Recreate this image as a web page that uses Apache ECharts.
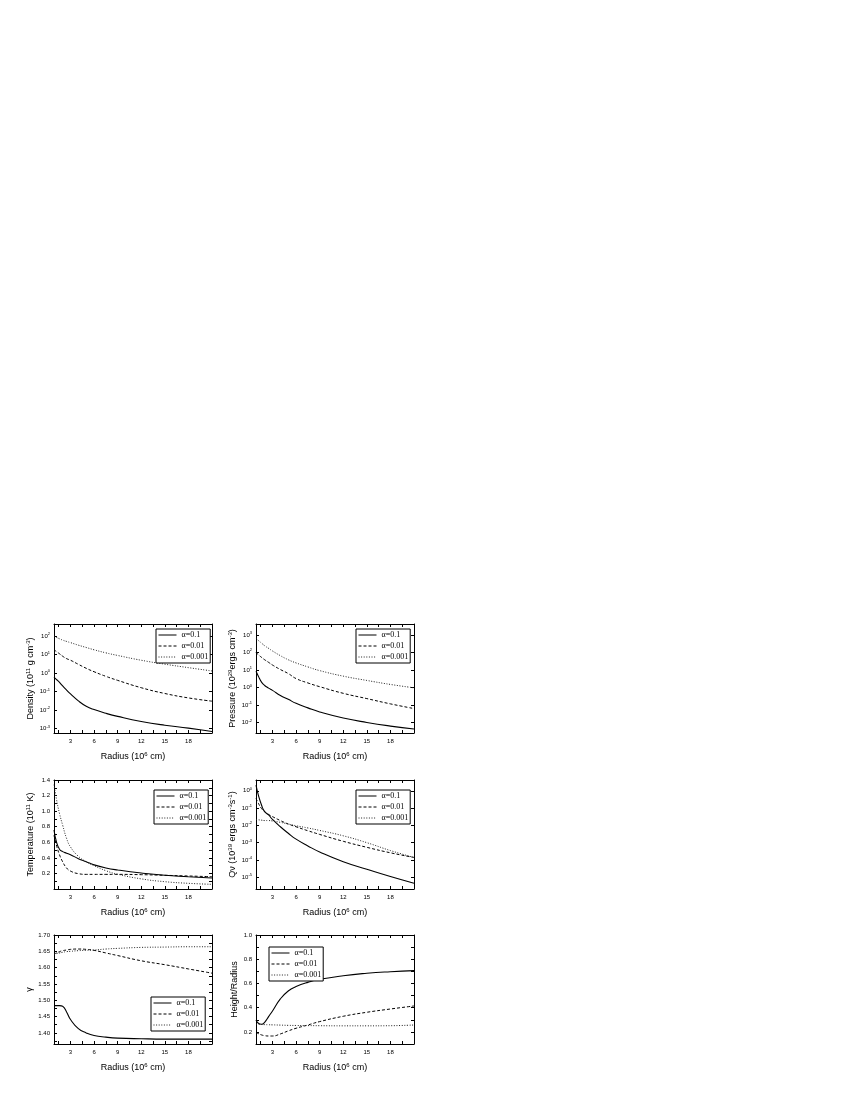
<!DOCTYPE html>
<html>
<head>
<meta charset="utf-8">
<script src="https://cdn.jsdelivr.net/npm/echarts@6/dist/echarts.min.js"></script>
<style>
  html, body { margin: 0; padding: 0; background: #fff; }
  #chart { width: 850px; height: 1100px; }
</style>
</head>
<body>
<div id="chart"></div>
<script>
// radius samples, 10^6 cm
const radius = [0.9, 1.2, 1.6, 2, 2.5, 3, 4, 5, 6, 7.5, 9, 12, 15, 18, 21];
const seriesNames = ['α=0.1', 'α=0.01', 'α=0.001'];

// x ticks
const xLabelValues = [3, 6, 9, 12, 15, 18];
const xTickValues = [1.5, 3, 4.5, 6, 7.5, 9, 10.5, 12, 13.5, 15, 16.5, 18, 19.5];

// density (10^11 g cm^-3)
const density01 = [0.60, 0.45, 0.31, 0.20, 0.12, 0.074, 0.031, 0.016, 0.0105, 0.0066, 0.0045, 0.0024, 0.0015, 0.00105, 0.00069];
const density001 = [18.6, 14.5, 11, 8.1, 6.0, 4.9, 2.95, 1.8, 1.17, 0.66, 0.40, 0.16, 0.078, 0.045, 0.030];
const density0001 = [100, 85, 71, 60, 51, 44, 32, 24, 18, 12.3, 8.9, 4.9, 3.0, 1.95, 1.29];
const densityTicks = [0.001, 0.01, 0.1, 1, 10, 100];

// pressure (10^29 ergs cm^-3)
const pressure01 = [8.3, 4.4, 2.0, 1.29, 0.91, 0.68, 0.35, 0.21, 0.123, 0.068, 0.040, 0.018, 0.010, 0.0062, 0.0042];
const pressure001 = [100, 74, 52, 38, 27, 19, 10.5, 6.2, 3.2, 1.8, 1.1, 0.46, 0.23, 0.115, 0.062];
const pressure0001 = [646, 479, 339, 240, 170, 120, 65, 38, 25, 14.8, 9.1, 4.4, 2.5, 1.48, 0.95];
const pressureTicks = [0.01, 0.1, 1, 10, 100, 1000];

// temperature (10^11 K)
const temperature01 = [0.76, 0.61, 0.51, 0.48, 0.46, 0.44, 0.39, 0.35, 0.31, 0.27, 0.244, 0.205, 0.176, 0.158, 0.141];
const temperature001 = [0.69, 0.565, 0.44, 0.35, 0.27, 0.23, 0.197, 0.188, 0.188, 0.188, 0.188, 0.184, 0.176, 0.167, 0.158];
const temperature0001 = [1.34, 1.16, 0.97, 0.82, 0.65, 0.54, 0.42, 0.35, 0.30, 0.235, 0.19, 0.13, 0.094, 0.073, 0.060];
const temperatureTicks = [0.2, 0.4, 0.6, 0.8, 1.0, 1.2, 1.4];
const temperatureMinor = [0.1, 0.2, 0.3, 0.4, 0.5, 0.6, 0.7, 0.8, 0.9, 1.0, 1.1, 1.2, 1.3];

// Q nu (10^39 ergs cm^-3 s^-1)
const qnu01 = [2.1, 0.56, 0.15, 0.062, 0.040, 0.022, 0.0083, 0.0035, 0.0016, 0.00065, 0.00029, 0.000079, 0.000029, 0.000011, 0.0000045];
const qnu001 = [0.36, 0.19, 0.095, 0.062, 0.043, 0.032, 0.019, 0.012, 0.0083, 0.0049, 0.0030, 0.0012, 0.00054, 0.00026, 0.00014];
const qnu0001 = [0.022, 0.021, 0.020, 0.019, 0.019, 0.018, 0.015, 0.012, 0.0095, 0.0071, 0.0051, 0.0025, 0.0010, 0.00035, 0.00014];
const qnuTicks = [0.00001, 0.0001, 0.001, 0.01, 0.1, 1];

// adiabatic index
const gamma01 = [1.4835, 1.4835, 1.4835, 1.4815, 1.464, 1.441, 1.413, 1.400, 1.392, 1.387, 1.384, 1.382, 1.381, 1.381, 1.381];
const gamma001 = [1.641, 1.645, 1.649, 1.652, 1.654, 1.656, 1.657, 1.656, 1.653, 1.645, 1.637, 1.621, 1.609, 1.596, 1.583];
const gamma0001 = [1.641, 1.643, 1.645, 1.647, 1.649, 1.650, 1.652, 1.653, 1.654, 1.657, 1.659, 1.662, 1.663, 1.664, 1.664];
const gammaTicks = [1.40, 1.45, 1.50, 1.55, 1.60, 1.65, 1.70];
const gammaMinor = [1.375, 1.40, 1.425, 1.45, 1.475, 1.50, 1.525, 1.55, 1.575, 1.60, 1.625, 1.65, 1.675];

// height / radius
const height01 = [0.298, 0.271, 0.263, 0.279, 0.326, 0.373, 0.472, 0.538, 0.574, 0.609, 0.634, 0.664, 0.684, 0.697, 0.706];
const height001 = [0.194, 0.186, 0.175, 0.169, 0.166, 0.166, 0.183, 0.208, 0.230, 0.257, 0.285, 0.329, 0.362, 0.389, 0.414];
const height0001 = [0.263, 0.262, 0.261, 0.260, 0.259, 0.258, 0.256, 0.254, 0.253, 0.252, 0.251, 0.250, 0.250, 0.251, 0.257];
const heightTicks = [0.2, 0.4, 0.6, 0.8, 1.0];
const heightMinor = [0.2, 0.3, 0.4, 0.5, 0.6, 0.7, 0.8, 0.9];

const panels = [
  { yName: 'Density (10{s|11} g cm{s|-3})', log: true, min: 5.7e-4, max: 447,
    labels: densityTicks, ticks: densityTicks, values: [density01, density001, density0001] },
  { yName: 'Pressure (10{s|29}ergs cm{s|-3})', log: true, min: 2.5e-3, max: 4170,
    labels: pressureTicks, ticks: pressureTicks, values: [pressure01, pressure001, pressure0001] },
  { yName: 'Temperature (10{s|11} K)', log: false, min: 0, max: 1.4, digits: 1,
    labels: temperatureTicks, ticks: temperatureMinor, values: [temperature01, temperature001, temperature0001] },
  { yName: 'Q\u03bd (10{s|39} ergs cm{s|-3}s{s|-1})', log: true, min: 2.1e-6, max: 4.2,
    labels: qnuTicks, ticks: qnuTicks, values: [qnu01, qnu001, qnu0001] },
  { yName: '\u03b3', log: false, min: 1.366, max: 1.70, digits: 2,
    labels: gammaTicks, ticks: gammaMinor, values: [gamma01, gamma001, gamma0001] },
  { yName: 'Height/Radius', log: false, min: 0.1, max: 1.0, digits: 1,
    labels: heightTicks, ticks: heightMinor, values: [height01, height001, height0001] }
];

// where each panel sits on the page
const layout = [
  { left: 54, top: 624, legend: [156, 629] },
  { left: 256, top: 624, legend: [356, 629] },
  { left: 54, top: 780, legend: [154, 790] },
  { left: 256, top: 780, legend: [356, 790] },
  { left: 54, top: 935, legend: [151, 997] },
  { left: 256, top: 935, legend: [269, 947] }
];

const lineStyles = [
  { type: 'solid', width: 1.1, color: '#000' },
  { type: [3, 2], width: 1, color: '#000' },
  { type: [1, 1.6], width: 1, color: '#222' }
];

const supRich = {
  s: { fontSize: 6, padding: [0, 0, 6, 0], fontFamily: 'Liberation Sans', color: '#000' }
};
const logRich = {
  b: { fontSize: 6, fontFamily: 'Liberation Sans', color: '#000' },
  e: { fontSize: 4, padding: [0, 0, 4, 0], fontFamily: 'Liberation Sans', color: '#000' }
};

const option = {
  animation: false,
  backgroundColor: '#fff',
  textStyle: { fontFamily: 'Liberation Sans', color: '#000' },
  grid: [],
  xAxis: [],
  yAxis: [],
  legend: [],
  series: []
};

const axisLine = { show: true, onZero: false, lineStyle: { color: '#000', width: 1 } };

panels.forEach((p, i) => {
  const pos = layout[i];
  option.grid.push({ left: pos.left, top: pos.top, width: 158, height: 109 });

  const xCommon = {
    type: 'value', gridIndex: i, min: 0.9, max: 21,
    axisLine: axisLine, splitLine: { show: false },
    axisTick: { inside: true, length: 3, customValues: xTickValues, lineStyle: { color: '#000' } }
  };
  option.xAxis.push(Object.assign({}, xCommon, {
    position: 'bottom',
    axisLabel: { customValues: xLabelValues, fontSize: 6, color: '#000', margin: 5 },
    name: 'Radius (10{s|6} cm)', nameLocation: 'middle', nameGap: 18,
    nameTextStyle: { fontSize: 9, color: '#000', rich: supRich }
  }));
  option.xAxis.push(Object.assign({}, xCommon, { position: 'top', axisLabel: { show: false } }));

  const yCommon = {
    type: p.log ? 'log' : 'value', gridIndex: i, min: p.min, max: p.max,
    axisLine: axisLine, splitLine: { show: false },
    axisTick: { inside: true, length: 3, customValues: p.ticks, lineStyle: { color: '#000' } }
  };
  const labelFormatter = p.log
    ? (v) => '{b|10}{e|' + Math.round(Math.log10(v)) + '}'
    : (v) => v.toFixed(p.digits);
  option.yAxis.push(Object.assign({}, yCommon, {
    position: 'left',
    axisLabel: { customValues: p.labels, formatter: labelFormatter, fontSize: 6, color: '#000', margin: 4, rich: logRich },
    name: p.yName, nameLocation: 'middle', nameGap: 17,
    nameTextStyle: { fontSize: 9, color: '#000', rich: supRich }
  }));
  option.yAxis.push(Object.assign({}, yCommon, { position: 'right', axisLabel: { show: false } }));

  option.legend.push({
    data: seriesNames,
    orient: 'vertical', left: pos.legend[0], top: pos.legend[1],
    itemWidth: 18, itemHeight: 6, itemGap: 3,
    padding: [2, 2, 2, 2],
    borderColor: '#000', borderWidth: 1, backgroundColor: '#fff',
    selectedMode: false,
    itemStyle: { opacity: 0 },
    lineStyle: { width: 1 },
    textStyle: { fontFamily: 'Liberation Serif', fontSize: 8, color: '#000' }
  });

  p.values.forEach((vals, k) => {
    option.series.push({
      type: 'line',
      name: seriesNames[k],
      xAxisIndex: 2 * i,
      yAxisIndex: 2 * i,
      data: radius.map((r, j) => [r, vals[j]]),
      symbol: 'none',
      smooth: 0.5,
      color: '#000',
      lineStyle: lineStyles[k],
      emphasis: { disabled: true }
    });
  });
});

const chart = echarts.init(document.getElementById('chart'));
chart.setOption(option);
</script>
</body>
</html>
